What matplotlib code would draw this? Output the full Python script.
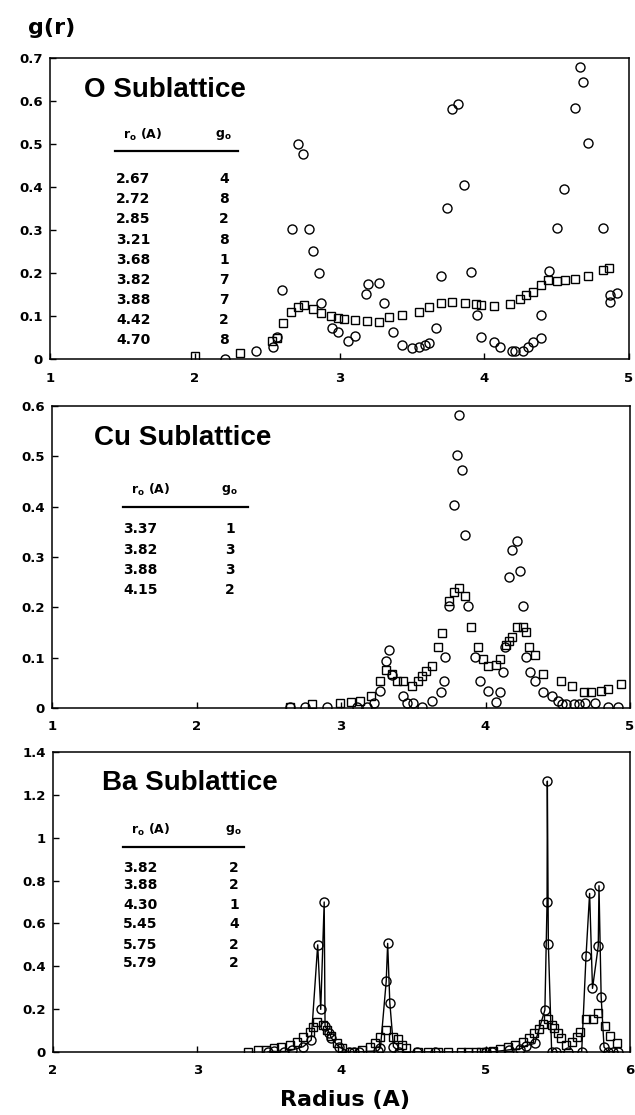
import matplotlib
matplotlib.use("Agg")
import matplotlib.pyplot as plt
from matplotlib.lines import Line2D

plt.rcParams['font.family'] = ['DejaVu Sans']
plt.rcParams['font.weight'] = 'bold'
plt.rcParams['mathtext.fontset'] = 'custom'
plt.rcParams['mathtext.rm'] = 'DejaVu Sans:bold'
plt.rcParams['mathtext.it'] = 'DejaVu Sans:bold'
plt.rcParams['mathtext.bf'] = 'DejaVu Sans:bold'

W, H = 635, 1115

# ---- O sublattice
o_circ_r = [2.21, 2.42, 2.54, 2.57, 2.60, 2.67, 2.71, 2.75, 2.79, 2.82, 2.86, 2.87, 2.95, 2.99, 3.06,
            3.11, 3.18, 3.20, 3.27, 3.31, 3.37, 3.43, 3.50, 3.55, 3.59, 3.62, 3.67, 3.70, 3.74, 3.78,
            3.82, 3.86, 3.91, 3.95, 3.98, 4.07, 4.11, 4.19, 4.21, 4.27, 4.30, 4.34, 4.39, 4.39, 4.45,
            4.50, 4.55, 4.63, 4.66, 4.68, 4.72, 4.82, 4.87, 4.87, 4.92]
o_circ_g = [0.000, 0.019, 0.027, 0.052, 0.160, 0.302, 0.501, 0.476, 0.302, 0.252, 0.201, 0.131, 0.071, 0.062, 0.042,
            0.054, 0.152, 0.175, 0.177, 0.131, 0.062, 0.033, 0.025, 0.029, 0.032, 0.037, 0.072, 0.192, 0.352, 0.582,
            0.594, 0.404, 0.202, 0.102, 0.052, 0.039, 0.027, 0.019, 0.019, 0.019, 0.027, 0.039, 0.048, 0.102, 0.204,
            0.305, 0.395, 0.584, 0.678, 0.644, 0.503, 0.305, 0.150, 0.133, 0.154]
o_sq_r = [2.00, 2.31, 2.535, 2.57, 2.61, 2.666, 2.71, 2.755, 2.82, 2.87, 2.944, 2.99, 3.03, 3.106, 3.19,
          3.27, 3.34, 3.43, 3.55, 3.62, 3.70, 3.78, 3.87, 3.94, 3.98, 4.07, 4.18, 4.25, 4.29, 4.34,
          4.39, 4.44, 4.50, 4.56, 4.63, 4.72, 4.82, 4.86]
o_sq_g = [0.007, 0.013, 0.042, 0.050, 0.083, 0.110, 0.120, 0.125, 0.117, 0.106, 0.100, 0.096, 0.093, 0.091, 0.089,
          0.086, 0.098, 0.102, 0.110, 0.121, 0.131, 0.133, 0.131, 0.127, 0.125, 0.123, 0.129, 0.139, 0.150, 0.156,
          0.172, 0.183, 0.181, 0.183, 0.185, 0.193, 0.208, 0.212]
o_r0 = ["2.67", "2.72", "2.85", "3.21", "3.68", "3.82", "3.88", "4.42", "4.70"]
o_g0 = ["4", "8", "2", "8", "1", "7", "7", "2", "8"]

# ---- Cu sublattice
cu_circ_r = [2.65, 2.75, 2.90, 3.11, 3.18, 3.23, 3.27, 3.31, 3.33, 3.35, 3.43, 3.46, 3.50, 3.56, 3.63,
             3.69, 3.71, 3.72, 3.745, 3.78, 3.80, 3.82, 3.84, 3.86, 3.88, 3.93, 3.96, 4.02, 4.07, 4.10,
             4.12, 4.135, 4.16, 4.18, 4.22, 4.24, 4.26, 4.28, 4.31, 4.34, 4.40, 4.46, 4.50, 4.53, 4.56,
             4.61, 4.65, 4.69, 4.76, 4.85, 4.92]
cu_circ_g = [0.002, 0.002, 0.002, 0.002, 0.002, 0.009, 0.033, 0.093, 0.116, 0.066, 0.023, 0.010, 0.009, 0.002, 0.013,
             0.032, 0.053, 0.101, 0.202, 0.403, 0.502, 0.583, 0.473, 0.343, 0.203, 0.101, 0.053, 0.034, 0.012, 0.032,
             0.071, 0.122, 0.261, 0.313, 0.332, 0.273, 0.203, 0.101, 0.071, 0.053, 0.032, 0.023, 0.013, 0.007, 0.007,
             0.007, 0.007, 0.009, 0.009, 0.002, 0.002]
cu_sq_r = [2.65, 2.80, 2.99, 3.07, 3.13, 3.21, 3.27, 3.31, 3.35, 3.39, 3.43, 3.49, 3.53, 3.56, 3.59,
           3.63, 3.67, 3.70, 3.745, 3.78, 3.82, 3.86, 3.90, 3.95, 3.98, 4.02, 4.07, 4.10, 4.14, 4.16,
           4.18, 4.22, 4.26, 4.28, 4.30, 4.34, 4.40, 4.52, 4.60, 4.68, 4.73, 4.80, 4.85, 4.94]
cu_sq_g = [0.002, 0.008, 0.010, 0.011, 0.013, 0.023, 0.053, 0.075, 0.068, 0.054, 0.054, 0.043, 0.053, 0.064, 0.073,
           0.083, 0.122, 0.150, 0.212, 0.231, 0.238, 0.222, 0.161, 0.122, 0.097, 0.084, 0.086, 0.097, 0.126, 0.134,
           0.141, 0.161, 0.161, 0.151, 0.122, 0.106, 0.067, 0.053, 0.043, 0.032, 0.032, 0.033, 0.038, 0.048]
cu_r0 = ["3.37", "3.82", "3.88", "4.15"]
cu_g0 = ["1", "3", "3", "2"]

# ---- Ba sublattice
ba_circ_r = [3.49, 3.53, 3.60, 3.66, 3.735, 3.79, 3.835, 3.856, 3.88, 3.886, 3.915, 3.93, 3.98, 4.05, 4.09,
             4.12, 4.25, 4.27, 4.31, 4.32, 4.335, 4.36, 4.40, 4.52, 4.65, 5.00, 5.04, 5.16, 5.24, 5.28,
             5.34, 5.41, 5.425, 5.427, 5.434, 5.457, 5.49, 5.57, 5.665, 5.695, 5.72, 5.74, 5.78, 5.785, 5.80,
             5.82, 5.85, 5.885, 5.915]
ba_circ_g = [0.0, 0.003, 0.0, 0.01, 0.025, 0.056, 0.50, 0.199, 0.70, 0.12, 0.09, 0.065, 0.025, 0.0, 0.0,
             0.0, 0.005, 0.02, 0.33, 0.507, 0.23, 0.025, 0.0, 0.0, 0.0, 0.0, 0.0, 0.01, 0.015, 0.03,
             0.04, 0.196, 0.70, 1.264, 0.504, 0.0, 0.0, 0.0, 0.0, 0.446, 0.74, 0.297, 0.495, 0.776, 0.258,
             0.023, 0.0, 0.0, 0.0]
ba_sq_r = [3.35, 3.42, 3.48, 3.53, 3.58, 3.64, 3.69, 3.735, 3.78, 3.805, 3.83, 3.87, 3.897, 3.93, 3.967,
           4.00, 4.07, 4.14, 4.20, 4.23, 4.27, 4.31, 4.355, 4.39, 4.42, 4.45, 4.53, 4.60, 4.67, 4.74,
           4.83, 4.88, 4.93, 4.97, 5.00, 5.05, 5.10, 5.156, 5.20, 5.26, 5.30, 5.335, 5.37, 5.40, 5.434,
           5.456, 5.47, 5.50, 5.52, 5.556, 5.596, 5.63, 5.654, 5.695, 5.745, 5.78, 5.827, 5.86, 5.91]
ba_sq_g = [0.0, 0.008, 0.011, 0.019, 0.023, 0.033, 0.048, 0.069, 0.095, 0.118, 0.141, 0.126, 0.103, 0.075, 0.043,
           0.017, 0.0, 0.009, 0.025, 0.040, 0.069, 0.103, 0.071, 0.060, 0.033, 0.017, 0.0, 0.0, 0.0, 0.0,
           0.0, 0.0, 0.0, 0.0, 0.0, 0.006, 0.013, 0.022, 0.033, 0.048, 0.064, 0.088, 0.106, 0.130, 0.152,
           0.126, 0.110, 0.087, 0.064, 0.033, 0.048, 0.071, 0.095, 0.152, 0.152, 0.183, 0.121, 0.075, 0.040]
ba_r0 = ["3.82", "3.88", "4.30", "5.45", "5.75", "5.79"]
ba_g0 = ["2", "2", "1", "4", "2", "2"]


def px(x, y):
    # pixel position (from top-left) -> figure fraction
    return x / W, 1 - y / H


def box(left, top, right, bottom):
    return [left / W, 1 - bottom / H, (right - left) / W, (bottom - top) / H]


fig = plt.figure(figsize=(W / 100, H / 100), dpi=100)


def setup(ax, xlim, ylim, yticks, ylabels, xticks):
    ax.set_xlim(*xlim)
    ax.set_ylim(*ylim)
    ax.set_xticks(xticks)
    ax.set_xticklabels([str(t) for t in xticks])
    ax.set_yticks(yticks)
    ax.set_yticklabels(ylabels)
    ax.tick_params(direction='in', length=4, width=1, labelsize=9.5)
    ax.tick_params(axis='x', pad=9)
    ax.tick_params(axis='y', pad=5)
    for s in ax.spines.values():
        s.set_linewidth(1.1)


circ = dict(marker='o', ms=6.5, mfc='none', mec='black', mew=1.0, ls='none')
sq = dict(marker='s', ms=5.4, mfc='none', mec='black', mew=1.0, ls='none')


def table(title, title_xy, head_y, line_y, line_x, rx, gx, rows_y, r0, g0):
    fig.text(*px(*title_xy), title, fontsize=20, fontweight='bold',
             family='Liberation Sans', va='center', ha='left')
    fig.text(*px(line_x[0] + 8, head_y), r'r$_\mathrm{o}$ (A)', fontsize=9, va='center', ha='left')
    fig.text(*px(gx - 14, head_y), r'g$_\mathrm{o}$', fontsize=9, va='center', ha='left')
    x0, y0 = px(line_x[0], line_y)
    x1, _ = px(line_x[1], line_y)
    fig.add_artist(Line2D([x0, x1], [y0, y0], color='black', lw=1.6, transform=fig.transFigure))
    for y, r, g in zip(rows_y, r0, g0):
        fig.text(*px(rx, y), r, fontsize=10, va='center', ha='left')
        fig.text(*px(gx, y), g, fontsize=10, va='center', ha='right')


# top panel
ax1 = fig.add_axes(box(50, 58, 629, 359))
ax1.plot(o_sq_r, o_sq_g, **sq)
ax1.plot(o_circ_r, o_circ_g, **circ)
setup(ax1, (1, 5), (0, 0.7), [0, 0.1, 0.2, 0.3, 0.4, 0.5, 0.6, 0.7],
      ['0', '0.1', '0.2', '0.3', '0.4', '0.5', '0.6', '0.7'], [1, 2, 3, 4, 5])
table('O Sublattice', (84, 90), 135, 151, (115, 238), 116, 229,
      [179, 199, 219, 240, 260, 280, 300, 320, 340], o_r0, o_g0)

# middle panel
ax2 = fig.add_axes(box(52, 406, 630, 708))
ax2.plot(cu_sq_r, cu_sq_g, **sq)
ax2.plot(cu_circ_r, cu_circ_g, **circ)
setup(ax2, (1, 5), (0, 0.6), [0, 0.1, 0.2, 0.3, 0.4, 0.5, 0.6],
      ['0', '0.1', '0.2', '0.3', '0.4', '0.5', '0.6'], [1, 2, 3, 4, 5])
table('Cu Sublattice', (94, 438), 490, 507, (123, 248), 123, 235,
      [529, 550, 570, 590], cu_r0, cu_g0)

# bottom panel
ax3 = fig.add_axes(box(53, 752, 630, 1052))
ax3.plot(ba_sq_r, ba_sq_g, **sq)
ax3.plot(ba_circ_r, ba_circ_g, color='black', lw=1.0, marker='o', ms=6.5,
         mfc='none', mec='black', mew=1.0)
setup(ax3, (2, 6), (0, 1.4), [0, 0.2, 0.4, 0.6, 0.8, 1.0, 1.2, 1.4],
      ['0', '0.2', '0.4', '0.6', '0.8', '1', '1.2', '1.4'], [2, 3, 4, 5, 6])
table('Ba Sublattice', (102, 783), 830, 847, (123, 244), 123, 239,
      [868, 885, 905, 924, 945, 963], ba_r0, ba_g0)

fig.text(*px(28, 28), 'g(r)', fontsize=16, va='center', ha='left')
fig.text(*px(345, 1100), 'Radius (A)', fontsize=16, va='center', ha='center')

fig.savefig('out.png', dpi=100)
